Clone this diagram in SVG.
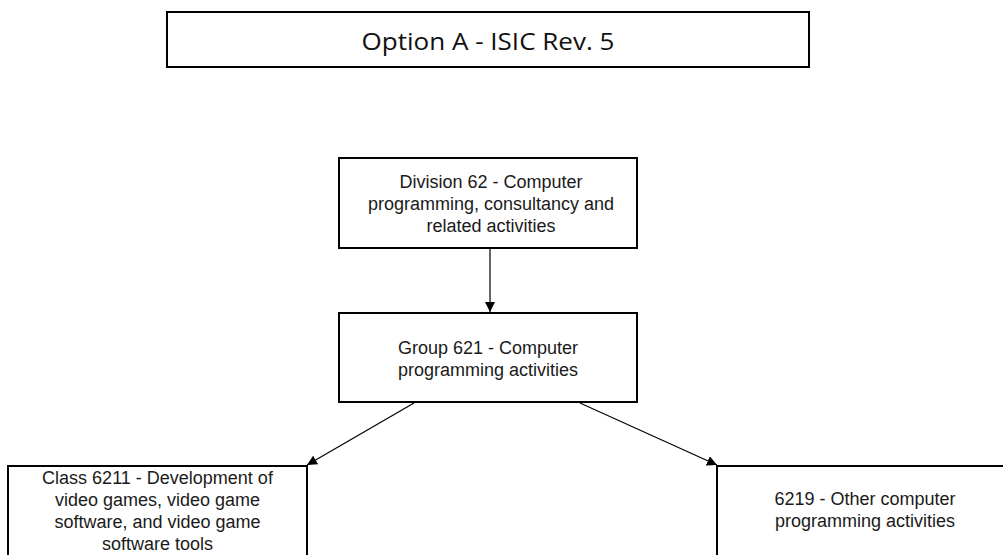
<svg xmlns="http://www.w3.org/2000/svg" width="1003" height="555" viewBox="0 0 1003 555">
  <defs>
    <marker id="arrowhead" viewBox="0 0 10 10" refX="10" refY="5" markerWidth="10" markerHeight="10" markerUnits="userSpaceOnUse" orient="auto">
      <path d="M0,0 L10,5 L0,10 Z" fill="#000"/>
    </marker>
    <style>
      .box { fill: #fff; stroke: #000; stroke-width: 2; }
      .title { font-family: "Open Sans", "Liberation Sans", sans-serif; font-size: 23px; fill: #111; text-anchor: middle; }
      .label { font-family: "Liberation Sans", Arial, sans-serif; font-size: 18px; fill: #1a1a1a; text-anchor: middle; }
      .link { fill: none; stroke: #000; stroke-width: 1.2; marker-end: url(#arrowhead); }
    </style>
  </defs>
  <rect width="1003" height="555" fill="#fff"/>

  <!-- heading -->
  <g id="title">
    <rect class="box" x="167" y="12" width="642" height="55"/>
    <text class="title" x="488" y="50" textLength="253" lengthAdjust="spacingAndGlyphs">Option A - ISIC Rev. 5</text>
  </g>

  <!-- connectors -->
  <g id="connectors">
    <line class="link" x1="490" y1="249" x2="490" y2="312"/>
    <line class="link" x1="414" y1="403" x2="307" y2="465"/>
    <line class="link" x1="580" y1="403" x2="717" y2="465"/>
  </g>

  <g id="division-62">
    <rect class="box" x="339" y="158" width="298" height="90"/>
    <text class="label" x="491" y="188">Division 62 - Computer</text>
    <text class="label" x="491" y="210">programming, consultancy and</text>
    <text class="label" x="491" y="232">related activities</text>
  </g>

  <g id="group-621">
    <rect class="box" x="339" y="313" width="298" height="89"/>
    <text class="label" x="488" y="354">Group 621 - Computer</text>
    <text class="label" x="488" y="376">programming activities</text>
  </g>

  <g id="class-6211">
    <rect class="box" x="8" y="466" width="299" height="100"/>
    <text class="label" x="157.5" y="484">Class 6211 - Development of</text>
    <text class="label" x="157.5" y="506">video games, video game</text>
    <text class="label" x="157.5" y="528">software, and video game</text>
    <text class="label" x="157.5" y="550">software tools</text>
  </g>

  <g id="class-6219">
    <rect class="box" x="717" y="466" width="298" height="100"/>
    <text class="label" x="865" y="505">6219 - Other computer</text>
    <text class="label" x="865" y="527">programming activities</text>
  </g>
</svg>
